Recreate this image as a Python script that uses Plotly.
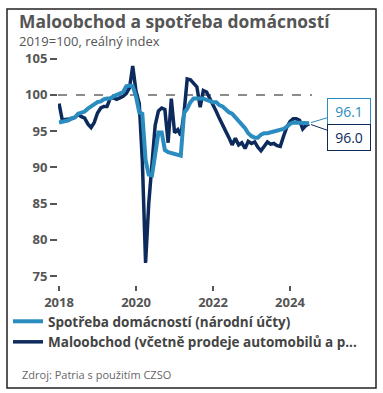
import plotly.graph_objects as go
import pandas as pd

dates = pd.date_range("2018-01-01", "2024-07-01", freq="MS")

retail = [98.8, 96.5, 96.6, 96.6, 96.7, 96.9, 97.3, 97.0, 96.8, 96.0, 95.5, 96.2,
          97.5, 98.2, 98.4, 98.4, 99.5, 99.6, 99.4, 99.6, 99.8, 100.2, 101.0, 104.0,
          100.5, 98.8, 91.0, 76.8, 85.0, 90.5, 95.8, 97.8, 98.2, 98.0, 93.4, 99.5,
          94.8, 95.2, 94.4, 97.5, 102.2, 102.1, 101.6, 101.1, 98.3, 100.6, 100.4, 99.6,
          98.6, 97.7, 96.8, 96.0, 95.0, 94.1, 93.1, 94.0, 93.1, 93.4, 92.6, 93.6,
          93.3, 93.5, 92.8, 92.3, 92.8, 93.5, 93.2, 93.3, 93.0, 92.9, 94.3, 95.5,
          96.3, 96.7, 96.7, 96.5, 95.3, 95.8, 96.0]

consumption = [96.2, 96.3, 96.3, 96.5, 96.8, 96.9, 97.4, 97.5, 97.7, 98.1, 98.4, 98.7,
               99.0, 99.1, 99.4, 99.5, 99.5, 99.8, 100.0, 100.2, 100.4, 101.2, 101.3, 101.2,
               99.8, 97.6, 97.4, 91.0, 89.0, 88.9, 91.5, 94.8, 94.8, 92.4, 92.1, 92.0,
               91.8, 91.8, 91.6, 97.5, 98.1, 99.0, 99.5, 99.5, 99.5, 99.5, 99.3, 99.1,
               99.0, 99.0, 98.6, 98.4, 98.0, 97.6, 97.4, 96.9, 96.5, 96.0, 95.4, 94.7,
               94.3, 94.1, 94.1, 94.5, 94.7, 94.7, 94.8, 95.0, 95.1, 95.2, 95.3, 95.6,
               96.0, 96.2, 96.2, 96.1, 96.1, 96.2, 96.1]

series_names = ["Spotřeba domácností (národní účty)",
                "Maloobchod (včetně prodeje automobilů a p..."]
y_ticks = [75, 80, 85, 90, 95, 100, 105]
x_ticks = ["2018-01-01", "2020-01-01", "2022-01-01", "2024-01-01"]
x_ticklabels = ["2018", "2020", "2022", "2024"]

LIGHT = "#2b8cc0"
DARK = "#0c2a5c"
GRAY = "#555555"
FONT = "Open Sans"

# plot area geometry in pixels (used only to place text outside the plot)
PL, PR, PT, PB = 58, 312, 58, 285
PW, PH = PR - PL, PB - PT


def px_x(px):
    return (px - PL) / PW


def px_y(py):
    return (PB - py) / PH


fig = go.Figure()
fig.add_trace(go.Scatter(x=dates, y=retail, mode="lines", name=series_names[1],
                         line=dict(color=DARK, width=3.5), legendrank=2))
fig.add_trace(go.Scatter(x=dates, y=consumption, mode="lines", name=series_names[0],
                         line=dict(color=LIGHT, width=4), legendrank=1))

fig.add_shape(type="line", xref="paper", x0=0, x1=1, yref="y", y0=100, y1=100,
              line=dict(color="#666666", width=1.5, dash="dash"), layer="below")

# outer frame
fig.add_shape(type="rect", xref="paper", yref="paper",
              x0=px_x(7), x1=px_x(376), y0=px_y(388), y1=px_y(9),
              line=dict(color="#222222", width=1.5))

fig.add_annotation(x=dates[-1], y=consumption[-1], text=f"{consumption[-1]:.1f}",
                   showarrow=True, arrowhead=0, arrowwidth=1, arrowcolor=LIGHT,
                   ax=40, ay=-12, standoff=2,
                   font=dict(family=FONT, size=14, color=LIGHT),
                   bordercolor=LIGHT, borderwidth=1, borderpad=3, bgcolor="white",
                   width=36, height=19)
fig.add_annotation(x=dates[-1], y=retail[-1], text=f"{retail[-1]:.1f}",
                   showarrow=True, arrowhead=0, arrowwidth=1, arrowcolor=DARK,
                   ax=40, ay=14, standoff=2,
                   font=dict(family=FONT, size=14, color=DARK),
                   bordercolor=DARK, borderwidth=1, borderpad=3, bgcolor="white",
                   width=36, height=19)

fig.add_annotation(xref="paper", yref="paper", x=px_x(17), y=px_y(21),
                   xanchor="left", yanchor="middle", showarrow=False,
                   text="<b>Maloobchod a spotřeba domácností</b>",
                   font=dict(family=FONT, size=17.4, color=GRAY))
fig.add_annotation(xref="paper", yref="paper", x=px_x(17), y=px_y(41),
                   xanchor="left", yanchor="middle", showarrow=False,
                   text="2019=100, reálný index",
                   font=dict(family=FONT, size=13, color=GRAY))
fig.add_annotation(xref="paper", yref="paper", x=px_x(20), y=px_y(374),
                   xanchor="left", yanchor="middle", showarrow=False,
                   text="Zdroj: Patria s použitím CZSO",
                   font=dict(family=FONT, size=11, color="#666666"))

fig.update_layout(
    width=383, height=393,
    margin=dict(l=PL, r=383 - PR, t=PT, b=393 - PB, autoexpand=False),
    paper_bgcolor="white", plot_bgcolor="white",
    font=dict(family=FONT, color=GRAY),
    showlegend=True,
    hovermode=False,
    legend=dict(orientation="v", x=px_x(8), y=px_y(306), xanchor="left", yanchor="top",
                font=dict(family=FONT, size=13.5, color="#444444", weight="bold"),
                tracegroupgap=0, itemwidth=30, bgcolor="rgba(0,0,0,0)"),
    xaxis=dict(range=["2017-12-22", "2024-07-28"], tickvals=x_ticks,
               ticktext=x_ticklabels, ticks="outside", ticklen=5, tickwidth=2,
               tickcolor=GRAY, showgrid=False, zeroline=False, showline=False,
               tickfont=dict(family=FONT, size=13, color=GRAY, weight="bold")),
    yaxis=dict(range=[73.75, 105.1], tickvals=y_ticks, ticks="outside", ticklen=7,
               tickwidth=1.5, tickcolor=GRAY, showgrid=False, zeroline=False,
               showline=False,
               tickfont=dict(family=FONT, size=13, color=GRAY, weight="bold")),
)

fig.write_html("out.html", config={"displayModeBar": False},
               post_script="document.body.style.margin='0';document.body.style.overflow='hidden';")
